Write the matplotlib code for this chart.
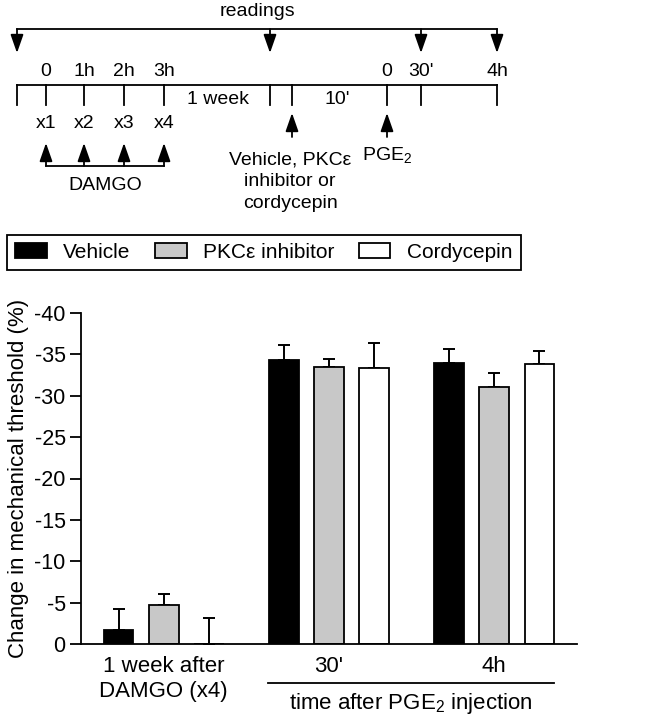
import numpy as np
import matplotlib
matplotlib.use("Agg")
import matplotlib.pyplot as plt

plt.rcParams['font.family'] = ['Liberation Sans', 'DejaVu Sans']
plt.rcParams['mathtext.default'] = 'regular'
plt.rcParams['axes.unicode_minus'] = False

# ---------------------------------------------------------------------------
# Data (change in mechanical threshold, %; negative = lower threshold)
# ---------------------------------------------------------------------------
groups = ["1 week after\nDAMGO (x4)", "30'", "4h"]
series = ["Vehicle", "PKC\u03b5 inhibitor", "Cordycepin"]
vehicle = [-1.7, -34.3, -33.9]
vehicle_sem = [2.5, 1.8, 1.8]
pkc_inhibitor = [-4.7, -33.5, -31.1]
pkc_inhibitor_sem = [1.3, 0.9, 1.6]
cordycepin = [0.0, -33.4, -33.8]
cordycepin_sem = [3.2, 3.0, 1.6]
y_ticks = [0, -5, -10, -15, -20, -25, -30, -35, -40]

# timeline labels
dose_times = ["0", "1h", "2h", "3h"]
dose_marks = ["x1", "x2", "x3", "x4"]
pge_times = ["0", "30'", "4h"]

fig = plt.figure(figsize=(6.47, 7.2), dpi=100)
W, H = 647, 720

# ---------------------------------------------------------------------------
# Bar chart
# ---------------------------------------------------------------------------
ax = fig.add_axes([81 / W, 1 - 644 / H, (577 - 81) / W, (644 - 313) / H])
x = np.arange(len(groups))
width = 0.18
offsets = [-0.273, 0.0, 0.273]
colors = ["black", "#c8c8c8", "white"]
values = [vehicle, pkc_inhibitor, cordycepin]
errors = [vehicle_sem, pkc_inhibitor_sem, cordycepin_sem]

handles = []
for vals, errs, off, col, name in zip(values, errors, offsets, colors, series):
    b = ax.bar(x + off, vals, width, color=col, edgecolor="black",
               linewidth=1.3, label=name, zorder=2)
    handles.append(b)
    ax.errorbar(x + off, vals, yerr=[errs, np.zeros(len(errs))], fmt="none",
                ecolor="black", elinewidth=1.4, capsize=4.5, capthick=1.4,
                zorder=1)

ax.set_xlim(-0.5, 2.5)
ax.set_ylim(0, -40)
ax.set_yticks(y_ticks)
ax.set_yticklabels([str(t) for t in y_ticks], fontsize=15.5)
ax.set_xticks(x)
ax.set_xticklabels(groups, fontsize=16)
ax.tick_params(axis="x", length=0, pad=9)
ax.tick_params(axis="y", length=8, width=1.3, pad=3)
ax.spines["top"].set_visible(False)
ax.spines["right"].set_visible(False)
for s in ("left", "bottom"):
    ax.spines[s].set_linewidth(1.3)
ax.set_ylabel("Change in mechanical threshold (%)", fontsize=16, labelpad=4)

# legend box
leg = fig.legend(handles=handles, labels=series, loc="center", ncol=3,
                 bbox_to_anchor=(7 / W, 1 - 270 / H, 514 / W, 35 / H),
                 mode="expand", borderaxespad=0, fontsize=15,
                 handlelength=1.5, handleheight=0.7, handletextpad=0.8,
                 fancybox=False, edgecolor="black", framealpha=1,
                 borderpad=0.4)
leg.get_frame().set_linewidth(1.3)

# ---------------------------------------------------------------------------
# Overlay in pixel coordinates for the protocol timeline
# ---------------------------------------------------------------------------
ov = fig.add_axes([0, 0, 1, 1], facecolor="none")
ov.set_xlim(0, W)
ov.set_ylim(H, 0)
ov.axis("off")
lw = 1.3
fs = 14


def arrow(x0, y_from, y_to):
    ov.annotate("", xy=(x0, y_to), xytext=(x0, y_from),
                arrowprops=dict(arrowstyle="-|>,head_length=0.8,head_width=0.28",
                                color="black", lw=lw, shrinkA=0, shrinkB=0,
                                mutation_scale=14))


# readings
ov.text(257, 12, "readings", ha="center", va="center", fontsize=fs)
ov.plot([17, 497], [29, 29], color="black", lw=lw)
for xr in [17, 270, 421, 497]:
    arrow(xr, 29, 53)

# main time line
ov.plot([17, 497], [85, 85], color="black", lw=lw)
for xt in [17, 46, 84, 124, 164, 270, 292, 387, 421, 497]:
    ov.plot([xt, xt], [85, 105], color="black", lw=lw)

dose_x = [46, 84, 124, 164]
for xt, lab in zip(dose_x, dose_times):
    ov.text(xt, 72, lab, ha="center", va="center", fontsize=fs)
for xt, lab in zip([387, 421, 497], pge_times):
    ov.text(xt, 72, lab, ha="center", va="center", fontsize=fs)
ov.text(218, 99, "1 week", ha="center", va="center", fontsize=fs)
ov.text(337, 99, "10'", ha="center", va="center", fontsize=fs)

for xt, lab in zip(dose_x, dose_marks):
    ov.text(xt, 123, lab, ha="center", va="center", fontsize=fs)
    arrow(xt, 166, 143)
ov.plot([46, 164], [166, 166], color="black", lw=lw)
ov.text(105, 185, "DAMGO", ha="center", va="center", fontsize=fs)

arrow(292, 137, 113)
arrow(387, 137, 113)
ov.text(290, 182, "Vehicle, PKC\u03b5\ninhibitor or\ncordycepin", ha="center",
        va="center", fontsize=fs, linespacing=1.35)
ov.text(387, 155, "PGE$_2$", ha="center", va="center", fontsize=fs)

# bracket under the PGE2 groups
ov.plot([268, 554], [683, 683], color="black", lw=lw)
ov.text(411, 703, "time after PGE$_2$ injection", ha="center", va="center",
        fontsize=16)

fig.savefig("out.png", dpi=100)
